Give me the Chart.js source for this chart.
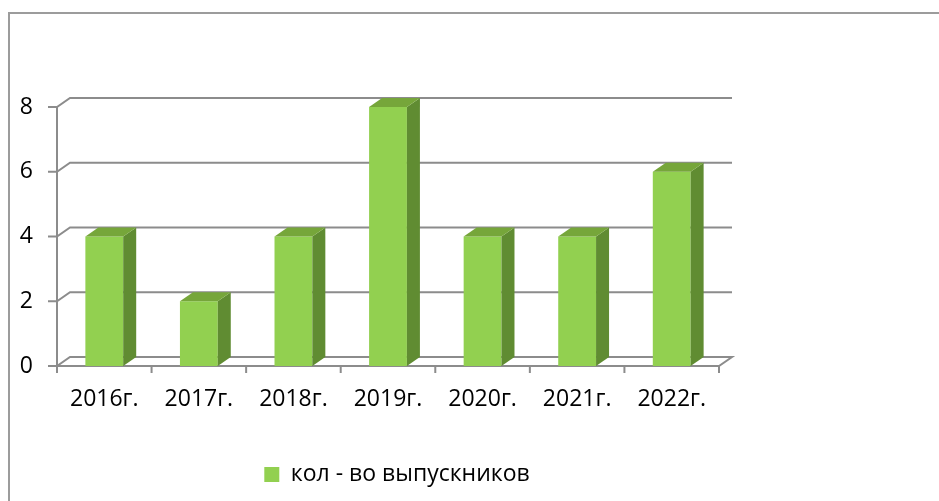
<!DOCTYPE html>
<html><head><meta charset="utf-8">
<script src="https://cdn.jsdelivr.net/npm/chart.js@4/dist/chart.umd.min.js"></script>
<style>html,body{margin:0;padding:0;background:#fff}#wrap{position:relative;width:939px;height:501px}</style>
</head><body><div id="wrap"><canvas id="c"></canvas></div>
<script>
const categories = ['2016г.', '2017г.', '2018г.', '2019г.', '2020г.', '2021г.', '2022г.'];
const graduates = [4, 2, 4, 8, 4, 4, 6];
const yTicks = [0, 2, 4, 6, 8];
const seriesLabel = 'кол - во выпускников';

const DX = 13, DY = -9;
const GRID = '#8c8c8c';
const threeD = {
  id: 'threeD',
  beforeDraw(chart) {
    const ctx = chart.ctx;
    ctx.save();
    ctx.strokeStyle = '#9c9c9c';
    ctx.lineWidth = 2;
    ctx.beginPath();
    ctx.moveTo(9, 501); ctx.lineTo(9, 13); ctx.lineTo(939, 13);
    ctx.stroke();
    ctx.restore();
  },
  beforeDatasetsDraw(chart) {
    const { ctx, chartArea: a, scales: { x, y } } = chart;
    ctx.save();
    ctx.strokeStyle = GRID;
    ctx.lineWidth = 2;
    yTicks.forEach(v => {
      const py = y.getPixelForValue(v);
      ctx.beginPath();
      ctx.moveTo(a.left - 9, py);
      ctx.lineTo(a.left, py);
      ctx.lineTo(a.left + DX, py + DY);
      ctx.lineTo(a.right + DX, py + DY);
      if (v === 0) { ctx.lineTo(a.right, py); ctx.lineTo(a.left, py); }
      ctx.stroke();
    });
    const top = y.getPixelForValue(yTicks[yTicks.length - 1]);
    const bot = y.getPixelForValue(0);
    ctx.beginPath();
    ctx.moveTo(a.left, top); ctx.lineTo(a.left, bot + 7);
    const w = (x.right - x.left) / categories.length;
    for (let i = 1; i <= categories.length; i++) {
      const px = x.left + i * w;
      ctx.moveTo(px, bot); ctx.lineTo(px, bot + 7);
    }
    ctx.stroke();
    ctx.restore();
  },
  afterDatasetsDraw(chart) {
    const ctx = chart.ctx;
    const meta = chart.getDatasetMeta(0);
    ctx.save();
    meta.data.forEach(bar => {
      const p = bar.getProps(['x', 'y', 'base', 'width'], true);
      const l = p.x - p.width / 2, r = p.x + p.width / 2;
      ctx.fillStyle = '#608c32';
      ctx.beginPath();
      ctx.moveTo(r, p.y); ctx.lineTo(r + DX, p.y + DY); ctx.lineTo(r + DX, p.base + DY); ctx.lineTo(r, p.base);
      ctx.closePath(); ctx.fill();
      ctx.fillStyle = '#76a63a';
      ctx.beginPath();
      ctx.moveTo(l, p.y); ctx.lineTo(l + DX, p.y + DY); ctx.lineTo(r + DX, p.y + DY); ctx.lineTo(r, p.y);
      ctx.closePath(); ctx.fill();
    });
    ctx.restore();
  }
};

Chart.defaults.font.family = "'Open Sans', sans-serif";
Chart.defaults.font.size = 23;
Chart.defaults.color = '#000';

new Chart(document.getElementById('c'), {
  type: 'bar',
  data: {
    labels: categories,
    datasets: [{
      label: seriesLabel,
      data: graduates,
      backgroundColor: '#92d050',
      borderWidth: 0,
      categoryPercentage: 1,
      barPercentage: 0.4
    }]
  },
  options: {
    responsive: true,
    maintainAspectRatio: false,
    animation: false,
    layout: { padding: { left: 0, top: 107, right: 145, bottom: 5 } },
    plugins: {
      legend: {
        position: 'bottom',
        labels: { boxWidth: 15, boxHeight: 15, padding: 10, font: { size: 23 } }
      },
      tooltip: { enabled: false }
    },
    scales: {
      x: {
        grid: { display: false },
        border: { display: false },
        ticks: { padding: 12, maxRotation: 0, autoSkip: false },
        afterFit(s) { s.height = 87; }
      },
      y: {
        min: 0, max: 8,
        grid: { display: false },
        border: { display: false },
        ticks: { stepSize: 2, padding: 16 },
        afterFit(s) { s.width = 57; }
      },
      y2: {
        position: 'right',
        min: 0, max: 8,
        grid: { display: false },
        border: { display: false },
        ticks: { display: false },
        afterFit(s) { s.width = 75; }
      }
    }
  },
  plugins: [threeD]
});
</script>
</body></html>
